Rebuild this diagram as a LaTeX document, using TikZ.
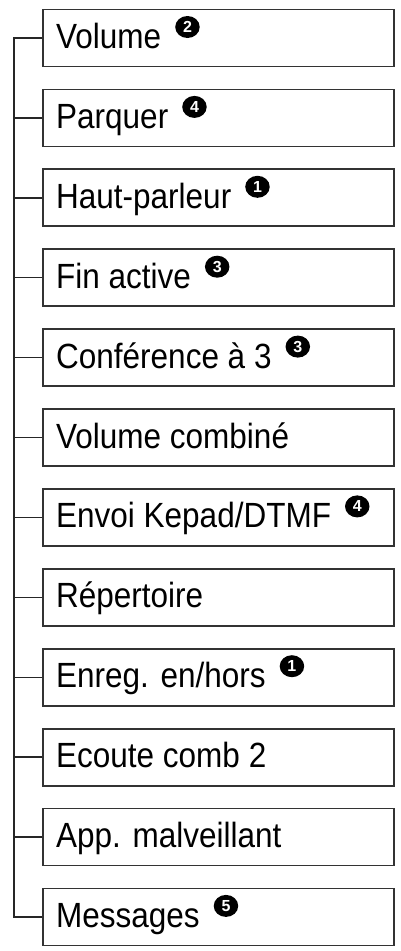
\documentclass[tikz,border=0pt]{standalone}
\usepackage{fontspec}
\setmainfont{Liberation Sans}
\newfontfamily\numfont{Liberation Sans Bold}
\usetikzlibrary{calc,shapes.geometric}
\begin{document}
\begin{tikzpicture}[x=1pt,y=-1pt,
  itembox/.style={draw=black!80, line width=1.8pt, minimum width=351pt, minimum height=57pt, inner sep=0pt},
  itemtext/.style={anchor=base west, inner sep=0pt, font=\fontsize{35}{40}\selectfont},
  badge/.style={ellipse, fill=black, text=white, inner sep=0pt, minimum width=24.5pt, minimum height=22pt, font=\numfont\fontsize{16}{16}\selectfont},
  conn/.style={draw=black!85, line width=1.4pt}]
\useasboundingbox (0,0) rectangle (401,951);
\foreach \i/\t in {1/{Volume},2/{Parquer},3/{Haut-parleur},4/{Fin active},5/{Conférence à 3},6/{Volume combiné},7/{Envoi Kepad/DTMF},8/{Répertoire},9/{Enreg. en/hors},10/{Ecoute comb 2},11/{App. malveillant},12/{Messages}}{
  \pgfmathsetmacro{\yy}{38+79.9*(\i-1)}
  \node[itembox] (b\i) at (218.5,\yy) {};
  \node[itemtext] (t\i) at (56,\yy+10.5) {\scalebox{0.9}[1]{\t}};
}
\foreach \i/\n in {1/2,2/4,3/1,4/3,5/3,7/4,9/1,12/5}{
  \node[badge] (c\i) at ($(t\i.base east)+(26,-21.5)$) {\n};
}
\coordinate (top) at (14,38);
\draw[conn] (b1.west) -- (top) |- (b12.west);
\foreach \i in {2,...,11}{
  \draw[conn] (b\i.west) -- (b\i.west -| top);
}
\end{tikzpicture}
\end{document}
